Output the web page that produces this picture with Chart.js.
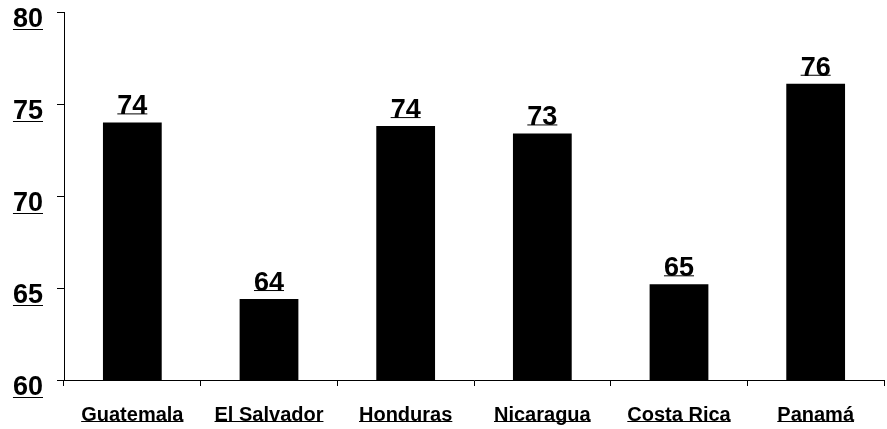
<!DOCTYPE html>
<html>
<head>
<meta charset="utf-8">
<script src="https://cdn.jsdelivr.net/npm/chart.js@4.4.0/dist/chart.umd.min.js"></script>
<style>
  html, body { margin: 0; padding: 0; background: #fff; }
  #wrap { width: 887px; height: 429px; }
</style>
</head>
<body>
<div id="wrap"><canvas id="chart"></canvas></div>
<script>
// datos
const countries = ['Guatemala', 'El Salvador', 'Honduras', 'Nicaragua', 'Costa Rica', 'Panamá'];
const values = [74.0, 64.4, 73.8, 73.4, 65.2, 76.1];
const valueLabels = ['74', '64', '74', '73', '65', '76'];
const yTicks = [60, 65, 70, 75, 80];

const FONT = 'Arial, "Liberation Sans", sans-serif';

// subrayado a la altura de la línea base, como en el original
function underline(ctx, x1, x2, y) {
    ctx.save();
    ctx.strokeStyle = '#000';
    ctx.lineWidth = 1;
    ctx.beginPath();
    ctx.moveTo(x1, y + 0.5);
    ctx.lineTo(x2, y + 0.5);
    ctx.stroke();
    ctx.restore();
}

const textPlugin = {
    id: 'textPlugin',
    afterDraw(chart) {
        const ctx = chart.ctx;
        const meta = chart.getDatasetMeta(0);

        // etiquetas de valor sobre cada barra
        ctx.save();
        ctx.font = 'bold 27px ' + FONT;
        ctx.fillStyle = '#000';
        ctx.textAlign = 'center';
        ctx.textBaseline = 'alphabetic';
        meta.data.forEach((bar, i) => {
            const y = bar.y - 8;
            ctx.fillText(valueLabels[i], bar.x, y);
            const w = ctx.measureText(valueLabels[i]).width;
            underline(ctx, bar.x - w / 2, bar.x + w / 2, y - 1);
        });
        ctx.restore();

        // subrayado de etiquetas del eje Y
        const ys = chart.scales.y;
        ctx.save();
        ctx.font = 'bold 27px ' + FONT;
        yTicks.forEach(t => {
            const w = ctx.measureText(String(t)).width;
            const py = ys.getPixelForValue(t) + 8 + 9;
            underline(ctx, 43 - w, 43, py);
        });
        ctx.restore();

        // subrayado de etiquetas del eje X
        const xs = chart.scales.x;
        ctx.save();
        ctx.font = 'bold 20px ' + FONT;
        countries.forEach((c, i) => {
            const w = ctx.measureText(c).width;
            const px = xs.getPixelForTick(i);
            underline(ctx, px - w / 2, px + w / 2, 421);
        });
        ctx.restore();
    }
};

new Chart(document.getElementById('chart').getContext('2d'), {
    type: 'bar',
    data: {
        labels: countries,
        datasets: [{
            data: values,
            backgroundColor: '#000',
            borderWidth: 0,
            barPercentage: 0.43,
            categoryPercentage: 1
        }]
    },
    options: {
        responsive: true,
        maintainAspectRatio: false,
        animation: false,
        layout: { padding: { top: 12, right: 3, left: 0, bottom: 0 } },
        plugins: {
            legend: { display: false },
            tooltip: { enabled: false }
        },
        scales: {
            x: {
                offset: true,
                grid: {
                    offset: true,
                    drawOnChartArea: false,
                    drawTicks: true,
                    tickLength: 6,
                    color: '#000',
                    tickColor: '#000'
                },
                border: { color: '#000', width: 1 },
                ticks: {
                    color: '#000',
                    font: { family: FONT, size: 20, weight: 'bold' },
                    padding: 17,
                    maxRotation: 0,
                    autoSkip: false
                },
                afterFit(scale) {
                    scale.height = 49;
                    scale.paddingLeft = 0;
                    scale.paddingRight = 0;
                }
            },
            y: {
                min: 60,
                max: 80,
                afterBuildTicks(scale) {
                    scale.ticks = yTicks.map(v => ({ value: v }));
                },
                grid: {
                    drawOnChartArea: false,
                    tickLength: 7,
                    color: '#000',
                    tickColor: '#000'
                },
                border: { color: '#000', width: 1 },
                ticks: {
                    color: '#000',
                    font: { family: FONT, size: 27, weight: 'bold' },
                    padding: 14,
                    labelOffset: 8
                },
                afterFit(scale) {
                    scale.width = 64;
                    scale.paddingTop = 0;
                    scale.paddingBottom = 0;
                }
            }
        }
    },
    plugins: [textPlugin]
});
</script>
</body>
</html>
